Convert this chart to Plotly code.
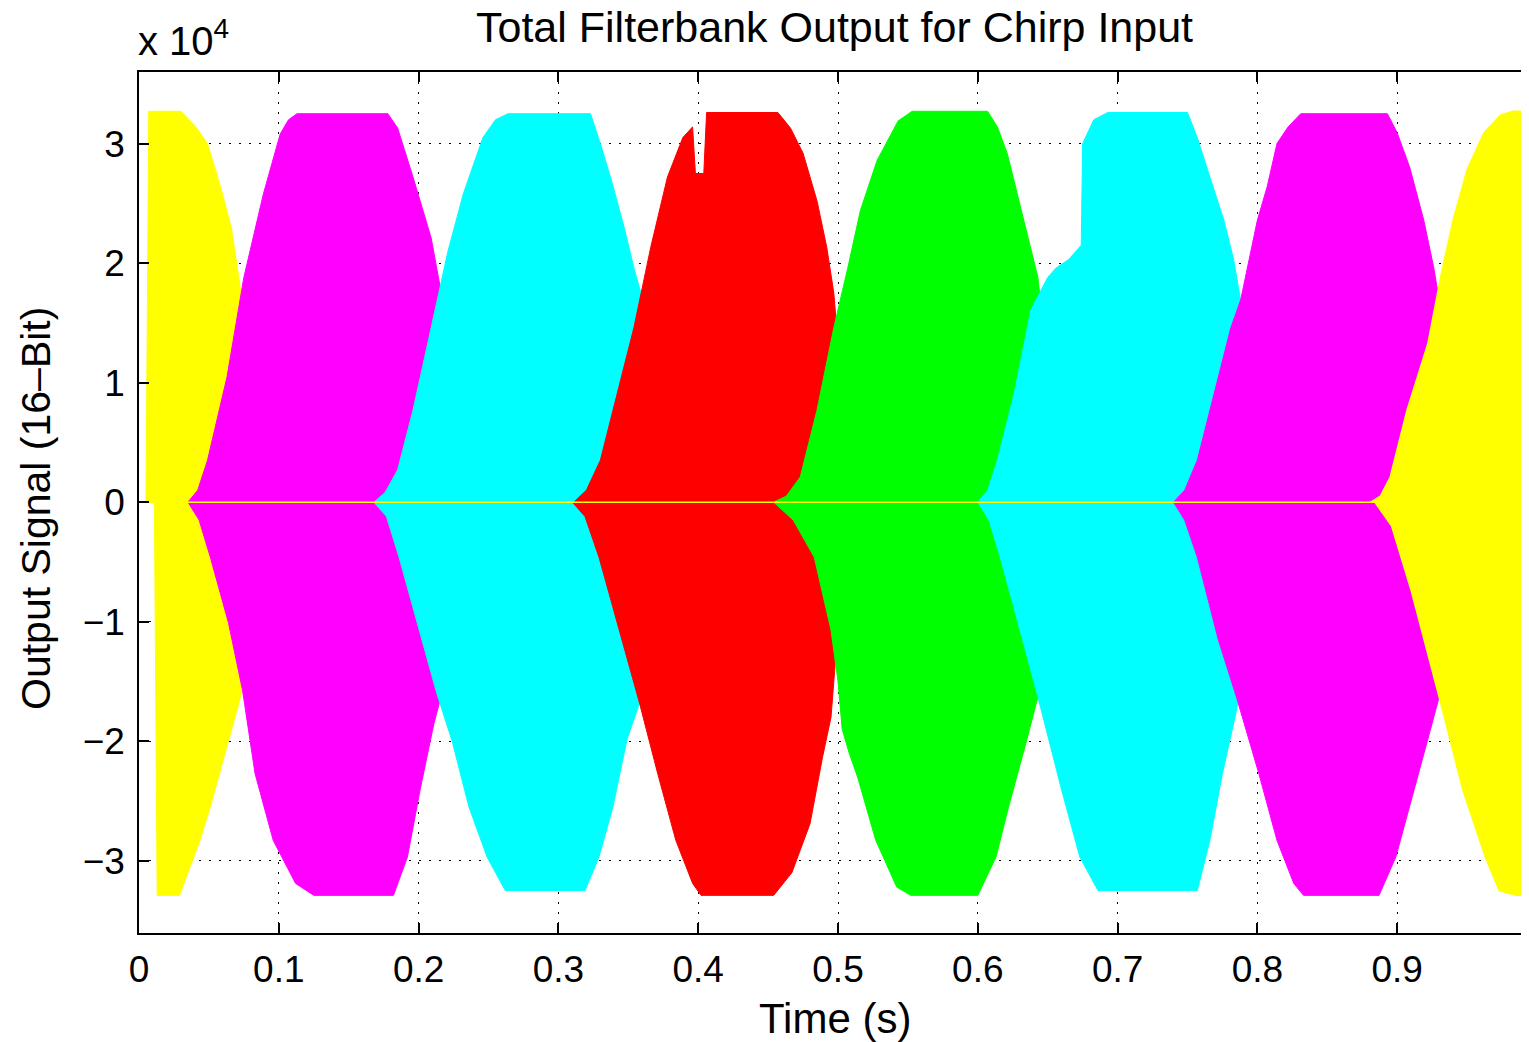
import plotly.graph_objects as go

# ---- envelope readings (time in s, amplitude in 16-bit counts) ----
# upper = positive envelope, lower = magnitude of negative envelope
YELLOW1_UPPER = [(0.000, 0), (0.005, 0), (0.007, 32700), (0.030, 32700), (0.040, 31500), (0.049, 30000),
                 (0.058, 26500), (0.066, 23000), (0.073, 17500), (0.080, 12000), (0.088, 6000),
                 (0.095, 2000), (0.100, 0)]
YELLOW1_LOWER = [(0.000, 0), (0.011, 0), (0.013, 32900), (0.029, 32900), (0.035, 31000), (0.043, 28500),
                 (0.051, 25500), (0.058, 22500), (0.064, 19900), (0.074, 15700), (0.082, 10000),
                 (0.090, 5000), (0.098, 1500), (0.102, 0)]

MAGENTA1_UPPER = [(0.035, 0), (0.042, 1000), (0.049, 3500), (0.063, 10500), (0.075, 18800), (0.089, 25800),
                  (0.101, 30800), (0.107, 32000), (0.113, 32500), (0.178, 32500), (0.185, 31300),
                  (0.196, 27200), (0.209, 22100), (0.217, 16900), (0.228, 10000), (0.238, 4000), (0.248, 0)]
MAGENTA1_LOWER = [(0.035, 0), (0.043, 1500), (0.051, 4600), (0.064, 10100), (0.074, 15700), (0.083, 22700),
                  (0.096, 28300), (0.112, 31900), (0.125, 32900), (0.182, 32900), (0.192, 29700),
                  (0.201, 24100), (0.211, 18500), (0.216, 16300), (0.228, 10000), (0.238, 4000), (0.248, 0)]

CYAN1_UPPER = [(0.168, 0), (0.176, 800), (0.185, 2700), (0.196, 7700), (0.209, 14600), (0.221, 21000),
               (0.232, 25800), (0.246, 30500), (0.255, 32000), (0.264, 32500), (0.323, 32500),
               (0.330, 30000), (0.338, 26900), (0.347, 23000), (0.354, 19600), (0.359, 17500),
               (0.368, 11000), (0.378, 5000), (0.390, 0)]
CYAN1_LOWER = [(0.168, 0), (0.177, 1200), (0.186, 4600), (0.199, 10000), (0.213, 16000), (0.224, 20000),
               (0.236, 25500), (0.249, 29700), (0.262, 32500), (0.319, 32500), (0.329, 29700),
               (0.339, 25500), (0.349, 19900), (0.358, 16800), (0.368, 11000), (0.378, 5000), (0.390, 0)]

RED_UPPER = [(0.311, 0), (0.320, 1000), (0.330, 3500), (0.342, 9100), (0.354, 14600), (0.366, 21300),
             (0.378, 27200), (0.389, 30500), (0.396, 31400), (0.398, 27500), (0.404, 27500), (0.406, 32600),
             (0.457, 32600), (0.466, 31300), (0.475, 29200), (0.485, 25200), (0.492, 21300),
             (0.497, 17500), (0.500, 13300), (0.508, 8000), (0.518, 3000), (0.528, 0)]
RED_LOWER = [(0.310, 0), (0.319, 1200), (0.329, 4600), (0.342, 10100), (0.358, 16800), (0.371, 22700),
             (0.384, 28300), (0.396, 31900), (0.402, 32900), (0.454, 32900), (0.467, 31000),
             (0.480, 26900), (0.489, 21300), (0.495, 18000), (0.499, 12000), (0.505, 6000),
             (0.512, 2000), (0.520, 0)]

GREEN_UPPER = [(0.454, 0), (0.463, 500), (0.473, 2100), (0.485, 7700), (0.497, 14600), (0.507, 19600),
               (0.516, 24400), (0.528, 28600), (0.543, 31900), (0.553, 32700), (0.607, 32700),
               (0.614, 31400), (0.621, 29200), (0.628, 25900), (0.635, 22500), (0.643, 18800),
               (0.645, 16600), (0.655, 10000), (0.665, 4000), (0.675, 0)]
GREEN_LOWER = [(0.454, 0), (0.468, 1500), (0.483, 4600), (0.495, 10700), (0.500, 15000), (0.503, 19000),
               (0.508, 21000), (0.514, 23000), (0.527, 28300), (0.542, 32200), (0.552, 32900),
               (0.600, 32900), (0.613, 29700), (0.622, 25500), (0.635, 19900), (0.643, 16300),
               (0.655, 10000), (0.665, 4000), (0.675, 0)]

CYAN2_UPPER = [(0.600, 0), (0.607, 1000), (0.614, 3500), (0.626, 9100), (0.638, 16100), (0.650, 18800),
               (0.656, 19600), (0.665, 20300), (0.674, 21500), (0.675, 30000), (0.683, 32000),
               (0.693, 32600), (0.750, 32600), (0.757, 30500), (0.766, 27200), (0.776, 23600),
               (0.783, 20300), (0.788, 16900), (0.798, 10000), (0.808, 4000), (0.818, 0)]
CYAN2_LOWER = [(0.600, 0), (0.608, 1500), (0.616, 4600), (0.632, 11500), (0.643, 16300), (0.648, 18500),
               (0.660, 24100), (0.673, 29700), (0.686, 32500), (0.757, 32500), (0.766, 28300),
               (0.775, 22700), (0.783, 18500), (0.787, 16300), (0.798, 10000), (0.808, 4000), (0.818, 0)]

MAGENTA2_UPPER = [(0.740, 0), (0.748, 1000), (0.757, 3500), (0.769, 9100), (0.781, 14600), (0.788, 16900),
                  (0.795, 20800), (0.800, 23600), (0.807, 26400), (0.814, 30000), (0.822, 31400),
                  (0.831, 32500), (0.893, 32500), (0.900, 30900), (0.909, 28000), (0.919, 23600),
                  (0.926, 19700), (0.930, 16900), (0.940, 10000), (0.950, 4000), (0.960, 0)]
MAGENTA2_LOWER = [(0.740, 0), (0.748, 1500), (0.757, 4600), (0.772, 11500), (0.785, 16300), (0.801, 22700),
                  (0.814, 28300), (0.826, 31900), (0.833, 32900), (0.887, 32900), (0.899, 29700),
                  (0.912, 24100), (0.925, 18500), (0.930, 16300), (0.940, 10000), (0.950, 4000), (0.960, 0)]

YELLOW2_UPPER = [(0.000, 0), (0.881, 0), (0.888, 500), (0.895, 2100), (0.907, 7700), (0.922, 13300),
                 (0.931, 18800), (0.940, 23600), (0.950, 27800), (0.962, 30900), (0.974, 32400),
                 (0.983, 32700), (1.000, 32700)]
YELLOW2_LOWER = [(0.000, 0), (0.884, 0), (0.896, 2000), (0.910, 7400), (0.932, 17200), (0.947, 24100),
                 (0.963, 29700), (0.973, 32500), (0.985, 32900), (1.000, 32900)]

BANDS = [
    ("#FFFF00", YELLOW1_UPPER, YELLOW1_LOWER),
    ("#FF00FF", MAGENTA1_UPPER, MAGENTA1_LOWER),
    ("#00FFFF", CYAN1_UPPER, CYAN1_LOWER),
    ("#FF0000", RED_UPPER, RED_LOWER),
    ("#00FF00", GREEN_UPPER, GREEN_LOWER),
    ("#00FFFF", CYAN2_UPPER, CYAN2_LOWER),
    ("#FF00FF", MAGENTA2_UPPER, MAGENTA2_LOWER),
    ("#FFFF00", YELLOW2_UPPER, YELLOW2_LOWER),
]

X_TICKS = [0, 0.1, 0.2, 0.3, 0.4, 0.5, 0.6, 0.7, 0.8, 0.9]
X_TICK_TEXT = ["0", "0.1", "0.2", "0.3", "0.4", "0.5", "0.6", "0.7", "0.8", "0.9"]
Y_TICKS = [-30000, -20000, -10000, 0, 10000, 20000, 30000]
Y_TICK_TEXT = ["\u22123", "\u22122", "\u22121", "0", "1", "2", "3"]

FONT = "Liberation Sans, Arial, Helvetica, sans-serif"

fig = go.Figure()
for i, (color, upper, lower) in enumerate(BANDS):
    xs = [p[0] for p in upper] + [p[0] for p in reversed(lower)]
    ys = [p[1] for p in upper] + [-p[1] for p in reversed(lower)]
    fig.add_trace(go.Scatter(
        x=xs, y=ys, mode="lines", fill="toself",
        fillcolor=color, line=dict(color=color, width=1.5 if i == len(BANDS) - 1 else 1),
        hoverinfo="skip", showlegend=False))

# page body has an 8px margin: figure coordinates = page coordinates - 8
OFF = 8
W, H = 1529 - OFF, 1042 - OFF
L, R, T = 139 - OFF, 0, 72 - OFF
B = H - (933 - OFF)
pw, ph = W - L - R, H - T - B

def px_x(px):
    return (px - OFF - L) / pw

def px_y(py):
    return (H - B - (py - OFF)) / ph

axis_common = dict(
    ticks="inside", ticklen=10, tickwidth=1.5, tickcolor="black",
    showline=True, linecolor="black", linewidth=1.5,
    showgrid=True, gridcolor="black", gridwidth=1, griddash="2px,8px",
    zeroline=False, tickfont=dict(family=FONT, size=37, color="black"),
)

fig.update_layout(
    width=W, height=H,
    margin=dict(l=L, r=R, t=T, b=B),
    paper_bgcolor="white", plot_bgcolor="white",
    xaxis=dict(range=[0, pw / 1398.0], tickvals=X_TICKS, ticktext=X_TICK_TEXT,
               mirror="ticks", ticklabelstandoff=3, **axis_common),
    yaxis=dict(range=[-36050, 35990], tickvals=Y_TICKS, ticktext=Y_TICK_TEXT,
               mirror=False, ticklabelstandoff=5, **axis_common),
    annotations=[
        dict(text="Total Filterbank Output for Chirp Input", xref="paper", yref="paper",
             x=px_x(835), y=px_y(27), xanchor="center", yanchor="middle", showarrow=False,
             font=dict(family=FONT, size=43, color="black")),
        dict(text="Time (s)", xref="paper", yref="paper",
             x=px_x(835), y=px_y(1018), xanchor="center", yanchor="middle", showarrow=False,
             font=dict(family=FONT, size=42, color="black")),
        dict(text="Output Signal (16\u2013Bit)", xref="paper", yref="paper", textangle=-90,
             x=px_x(36), y=px_y(509), xanchor="center", yanchor="middle", showarrow=False,
             font=dict(family=FONT, size=41, color="black")),
        dict(text="x 10<sup>4</sup>", xref="paper", yref="paper",
             x=px_x(136), y=px_y(38), xanchor="left", yanchor="middle", showarrow=False,
             font=dict(family=FONT, size=40, color="black")),
    ],
)

fig.write_html("out.html")
